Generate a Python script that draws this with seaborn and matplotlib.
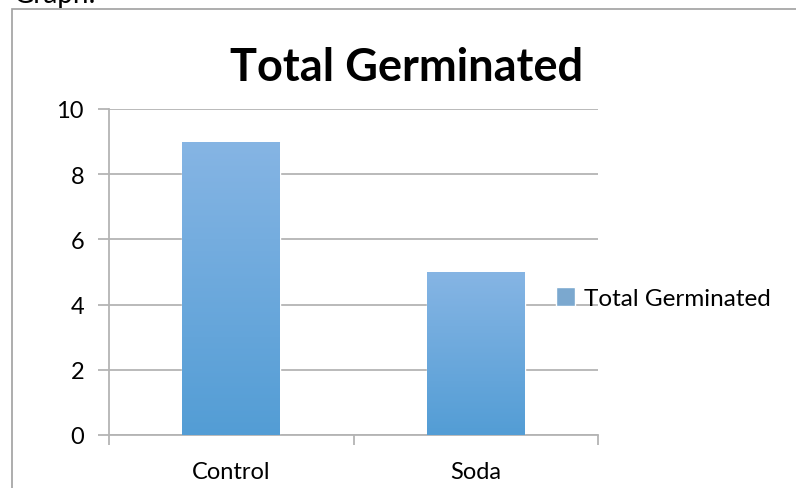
import numpy as np
import seaborn as sns
import matplotlib.pyplot as plt
from matplotlib.patches import Rectangle

# data
categories = ['Control', 'Soda']
germinated = [9, 5]
series_name = 'Total Germinated'

sns.set_theme(style='white')
plt.rcParams['font.family'] = ['Lato', 'DejaVu Sans']
plt.rcParams['text.color'] = 'black'

top_col = np.array([134, 181, 228]) / 255
bot_col = np.array([83, 157, 213]) / 255
grid_col = '#b4b4b4'

fig = plt.figure(figsize=(7.96, 4.89), dpi=100)
ax = fig.add_axes([109 / 796, 1 - 436 / 489, 489 / 796, 326 / 489])

sns.barplot(x=categories, y=germinated, width=0.4, color=(top_col + bot_col) / 2,
            label=series_name, ax=ax, zorder=2)

# vertical gradient on the bars
grad = np.linspace(0, 1, 256)[:, None, None]
img = top_col[None, None, :] * (1 - grad) + bot_col[None, None, :] * grad
for p in ax.patches:
    x0, y0 = p.get_x(), p.get_y()
    w, h = p.get_width(), p.get_height()
    im = ax.imshow(img, extent=[x0, x0 + w, y0, y0 + h], aspect='auto',
                   zorder=3, interpolation='bilinear')
    im.set_clip_path(p)

ax.set_xlim(-0.5, 1.5)
ax.set_ylim(0, 10)
ax.set_yticks([0, 2, 4, 6, 8, 10])
ax.yaxis.grid(True, color=grid_col, linewidth=1.3)
ax.set_axisbelow(True)

for s in ['top', 'right']:
    ax.spines[s].set_visible(False)
for s in ['left', 'bottom']:
    ax.spines[s].set_color(grid_col)
    ax.spines[s].set_linewidth(1.3)

ax.tick_params(axis='y', length=8, width=1.3, color=grid_col, labelsize=17,
               pad=10, left=True, labelcolor='black')
ax.tick_params(axis='x', which='major', length=0, labelsize=17, pad=19,
               labelcolor='black')
ax.set_xticks([-0.5, 0.5, 1.5], minor=True)
ax.tick_params(axis='x', which='minor', length=7, width=1.3, color=grid_col,
               bottom=True)

leg = ax.legend(loc='center left', bbox_to_anchor=(447 / 489, 0.42), frameon=False,
                fontsize=17.5, handlelength=0.8, handleheight=0.8, handletextpad=0.35,
                borderaxespad=0, borderpad=0)
for t in leg.get_texts():
    t.set_color('black')

fig.text(407 / 796, 1 - 68 / 489, 'Total Germinated', fontsize=32.5,
         fontweight='bold', ha='center', va='center', color='black')

# outer chart border and the cut-off caption above it
fig.patches.append(Rectangle((12 / 796, -0.1), 1.0, 1.1 - 10 / 489, transform=fig.transFigure,
                             fill=False, edgecolor='#a0a0a0', linewidth=1.2))
fig.text(14 / 796, 1 - 3 / 489, 'Graph:', fontsize=20, ha='left', va='baseline')

fig.savefig('out.png', dpi=100, facecolor='white')
